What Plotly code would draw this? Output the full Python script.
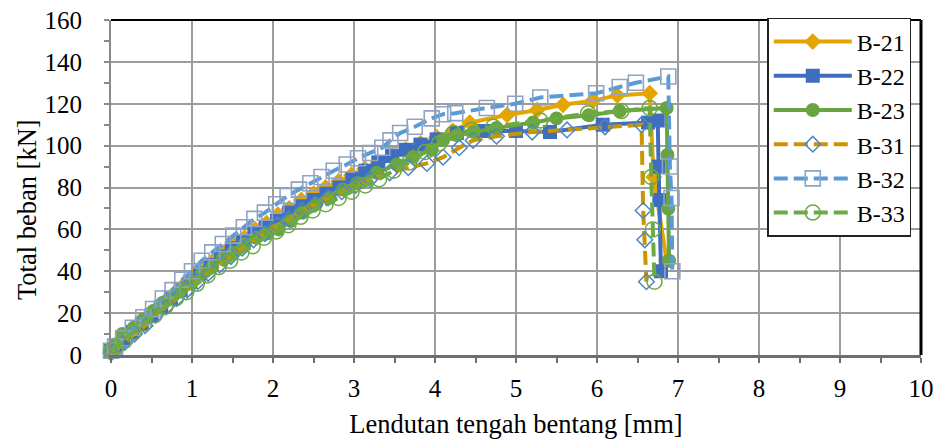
import plotly.graph_objects as go

# ---- data ----
x21 = [0.00, 0.08, 0.18, 0.29, 0.41, 0.53, 0.65, 0.77, 0.89, 1.01, 1.13, 1.26, 1.39, 1.52, 1.65, 1.78, 1.92, 2.06, 2.20, 2.35,
       2.50, 2.65, 2.81, 2.97, 3.13, 3.30, 3.47, 3.64, 3.82, 4.02, 4.22, 4.43, 4.89, 5.26, 5.58, 5.95, 6.25, 6.65, 6.70, 6.86]
y21 = [2, 4, 8, 12, 17, 21, 25, 29, 33, 37, 41, 45, 49, 53, 56, 60, 63, 67, 70, 74,
       77, 80, 83, 86, 89, 92, 95, 98, 101, 104, 107, 111, 114.6, 117, 119.5, 121.5, 124, 125, 85, 45]

x22 = [0.00, 0.06, 0.15, 0.26, 0.38, 0.50, 0.62, 0.74, 0.86, 0.98, 1.10, 1.23, 1.36, 1.49, 1.63, 1.77, 1.91, 2.05, 2.20, 2.35,
       2.50, 2.66, 2.82, 2.98, 3.14, 3.30, 3.47, 3.64, 3.82, 4.02, 4.27, 4.60, 5.00, 5.42, 6.07, 6.63, 6.75, 6.76, 6.77, 6.79]
y22 = [2, 4, 7, 11, 15, 19, 23, 27, 31, 35, 39, 43, 47, 51, 54, 58, 61, 64, 68, 71,
       74, 77, 80, 84, 88, 92, 95, 98, 100.5, 103, 106, 107, 107, 106.5, 110, 111, 112, 90, 74, 40]

x23 = [0.00, 0.05, 0.14, 0.28, 0.40, 0.52, 0.64, 0.76, 0.88, 1.00, 1.12, 1.25, 1.38, 1.51, 1.65, 1.79, 1.93, 2.07, 2.22, 2.37,
       2.53, 2.70, 2.86, 3.04, 3.28, 3.53, 3.73, 3.96, 4.10, 4.27, 4.48, 4.76, 5.21, 5.50, 5.90, 6.28, 6.86, 6.87, 6.88, 6.89]
y23 = [2, 5, 10, 13, 17, 21, 25, 28, 32, 35, 39, 42, 46, 49, 53, 56, 58, 60, 64, 68,
       72, 75, 79, 82, 87, 91, 94.6, 98, 102.7, 105, 106.5, 108.4, 111, 113, 114.5, 116.5, 118, 95.5, 70, 45]

x31 = [0.00, 0.07, 0.17, 0.29, 0.42, 0.55, 0.68, 0.81, 0.94, 1.07, 1.20, 1.34, 1.48, 1.62, 1.76, 1.90, 2.05, 2.20, 2.36, 2.52,
       2.68, 2.85, 3.02, 3.20, 3.44, 3.67, 3.90, 4.10, 4.30, 4.47, 4.76, 5.20, 5.63, 6.10, 6.55, 6.57, 6.59, 6.61]
y31 = [1, 3, 6, 10, 14, 19, 23, 27, 31, 35, 39, 43, 47, 51, 55, 58, 62, 65, 69, 72,
       75, 78, 81, 84, 87, 89.5, 91.5, 94.5, 99, 102.5, 104.5, 106.5, 107.5, 109, 110, 69, 55, 35]

x32 = [0.00, 0.05, 0.15, 0.27, 0.40, 0.52, 0.64, 0.76, 0.88, 1.00, 1.12, 1.25, 1.38, 1.51, 1.64, 1.77, 1.90, 2.04, 2.18, 2.32,
       2.46, 2.60, 2.75, 2.91, 3.05, 3.20, 3.35, 3.45, 3.57, 3.75, 3.96, 4.10, 4.25, 4.64, 4.99, 5.30, 5.99, 6.28, 6.48, 6.88,
       6.90, 6.92, 6.93]
y32 = [2, 4, 8, 13, 18, 22, 27, 31, 36, 40, 45, 49, 53, 57, 61, 65, 68, 72, 76, 79,
       82, 85, 88, 91, 94, 96.5, 99, 102.5, 106, 109, 113, 115, 115.5, 118, 120, 123, 125, 128, 130, 133,
       90, 75, 40]

x33 = [0.00, 0.06, 0.16, 0.28, 0.41, 0.54, 0.67, 0.80, 0.93, 1.06, 1.19, 1.33, 1.47, 1.61, 1.75, 1.89, 2.04, 2.19, 2.34, 2.49,
       2.65, 2.81, 2.97, 3.14, 3.31, 3.49, 3.68, 3.88, 4.05, 4.23, 4.45, 4.72, 5.30, 5.89, 6.30, 6.65, 6.67, 6.69, 6.71]
y33 = [2, 4, 7, 11, 15, 19, 23, 27, 30, 34, 38, 42, 45, 49, 52, 56, 59, 62, 66, 69,
       72, 75, 78, 81, 84, 88, 92, 97, 101, 106, 107.5, 109, 112, 115.5, 116.5, 118, 85, 60, 35]

names = ["B-21", "B-22", "B-23", "B-31", "B-32", "B-33"]
xs = [x21, x22, x23, x31, x32, x33]
ys = [y21, y22, y23, y31, y32, y33]

x_title = "Lendutan tengah bentang [mm]"
y_title = "Total beban [kN]"

# ---- styles ----
styles = [
    dict(line=dict(color="#E5A500", width=4), marker=dict(symbol="diamond", size=13, color="#E5A500")),
    dict(line=dict(color="#3F6DBF", width=4), marker=dict(symbol="square", size=14, color="#3F6DBF")),
    dict(line=dict(color="#69A440", width=4), marker=dict(symbol="circle", size=14, color="#69A440")),
    dict(line=dict(color="#C99500", width=4, dash="14px,6px"),
         marker=dict(symbol="diamond-open", size=12, color="#4D86C8", line=dict(width=1.5, color="#4D86C8"))),
    dict(line=dict(color="#5B9BD5", width=4, dash="14px,6px"),
         marker=dict(symbol="square-open", size=15, color="#8FA3C4", line=dict(width=1.6, color="#8FA3C4"))),
    dict(line=dict(color="#6CAA45", width=4, dash="14px,6px"),
         marker=dict(symbol="circle-open", size=15, color="#6CAA45", line=dict(width=1.5, color="#6CAA45"))),
]

FONT = "Liberation Serif"
FS = 25
FT = 26.5

fig = go.Figure()
for n, x, y, st in zip(names, xs, ys, styles):
    fig.add_trace(go.Scatter(x=x, y=y, name=n, mode="lines+markers", cliponaxis=False,
                             legendgroup=n, **st))

fig.update_layout(
    width=935, height=443,
    margin=dict(l=111, r=14, t=20, b=88, autoexpand=False),
    paper_bgcolor="white", plot_bgcolor="white",
    font=dict(family=FONT, size=FS, color="black"),
    showlegend=True,
    legend=dict(x=0.988, xanchor="right", y=1.006, yanchor="top",
                bgcolor="white", bordercolor="#222222", borderwidth=1.5,
                font=dict(family=FONT, size=24, color="black"),
                tracegroupgap=0, itemwidth=78),
    xaxis=dict(range=[0, 10], dtick=1, tick0=0, showgrid=True, gridcolor="#9C9C9C", gridwidth=1.5,
               zeroline=False, showline=True, linecolor="#6E6E6E", linewidth=3, automargin=False,
               ticks="outside", ticklen=5, tickcolor="#6E6E6E", tickwidth=1.5,
               minor=dict(dtick=0.5, ticks="outside", ticklen=5, tickcolor="#6E6E6E", showgrid=False),
               tickfont=dict(family=FONT, size=FS), ticklabelstandoff=4,
               title=dict(text=x_title, font=dict(family=FONT, size=FT), standoff=14)),
    yaxis=dict(range=[0, 160], dtick=20, tick0=0, showgrid=True, gridcolor="#9C9C9C", gridwidth=1.5,
               zeroline=False, showline=True, linecolor="#8A8A8A", linewidth=2, automargin=False,
               ticks="outside", ticklen=5, tickcolor="#8A8A8A", tickwidth=1.5,
               minor=dict(dtick=10, ticks="outside", ticklen=5, tickcolor="#8A8A8A", showgrid=False),
               tickfont=dict(family=FONT, size=FS), ticklabelstandoff=17),
    annotations=[
        dict(text=y_title, xref="paper", yref="paper", x=(27 - 111) / 810, y=(355 - 210) / 335,
             xanchor="center", yanchor="middle", textangle=-90, showarrow=False,
             font=dict(family=FONT, size=FT, color="black")),
    ],
    shapes=[
        dict(type="line", xref="paper", yref="paper", x0=0, x1=1, y0=1, y1=1,
             line=dict(color="black", width=2)),
        dict(type="line", xref="paper", yref="paper", x0=1, x1=1, y0=0, y1=1,
             line=dict(color="black", width=3)),
    ],
)

fig.write_html("out.html", config={"displayModeBar": False},
               post_script="document.body.style.margin='0';")
